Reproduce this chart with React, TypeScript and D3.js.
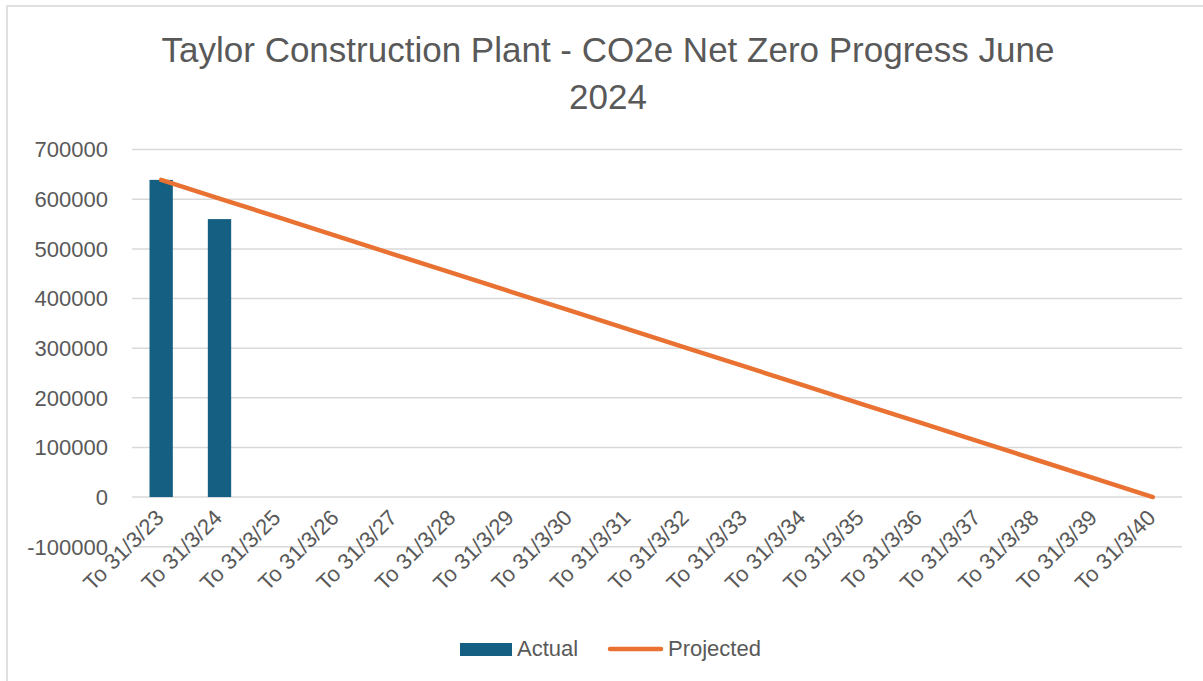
import React from "react";
import * as d3 from "d3";

const categories = [
  "To 31/3/23", "To 31/3/24", "To 31/3/25", "To 31/3/26", "To 31/3/27", "To 31/3/28",
  "To 31/3/29", "To 31/3/30", "To 31/3/31", "To 31/3/32", "To 31/3/33", "To 31/3/34",
  "To 31/3/35", "To 31/3/36", "To 31/3/37", "To 31/3/38", "To 31/3/39", "To 31/3/40",
];
const actual: (number | null)[] = [639000, 560000, null, null, null, null, null, null, null, null, null, null, null, null, null, null, null, null];
const projected = [
  639000, 601400, 563800, 526200, 488600, 451100, 413500, 375900, 338300,
  300700, 263100, 225500, 187900, 150400, 112800, 75200, 37600, 0,
];
const yTicks = [-100000, 0, 100000, 200000, 300000, 400000, 500000, 600000, 700000];
const titleLines = ["Taylor Construction Plant - CO2e Net Zero Progress June", "2024"];

const W = 1203;
const H = 681;
const BAR = "#156082";
const LINE = "#E97132";
const TXT = "#595959";
const GRID = "#D9D9D9";
const FONT = "'Liberation Sans', Arial, sans-serif";

export default function App() {
  const x = d3.scaleBand<string>().domain(categories).range([132, 1182]).paddingInner(0).paddingOuter(0);
  const y = d3.scaleLinear().domain([-100000, 700000]).range([546.7, 149.6]);
  const bw = x.bandwidth();
  const barW = bw * 0.4;
  const cx = (c: string) => (x(c) as number) + bw / 2;
  const line = d3
    .line<number>()
    .x((_, i) => cx(categories[i]))
    .y((d) => y(d));

  return (
    <svg
      width={W}
      height={H}
      style={{ position: "absolute", left: 0, top: 0, background: "#fff" }}
    >
      <rect x={0} y={0} width={W} height={H} fill="#fff" />
      <rect x={7} y={6} width={W + 20} height={H + 20} fill="none" stroke={GRID} strokeWidth={1.6} />
      {titleLines.map((t, i) => (
        <text
          key={i}
          x={608}
          y={61.5 + i * 47}
          textAnchor="middle"
          fontFamily={FONT}
          fontSize={35}
          fill={TXT}
        >
          {t}
        </text>
      ))}
      {yTicks.map((t) => (
        <g key={t}>
          <line x1={132} x2={1182} y1={y(t)} y2={y(t)} stroke={GRID} strokeWidth={1.5} />
          <text x={108} y={y(t) + 7.8} textAnchor="end" fontFamily={FONT} fontSize={22} fill={TXT}>
            {t}
          </text>
        </g>
      ))}
      {categories.map((c, i) =>
        actual[i] == null ? null : (
          <rect
            key={c}
            x={cx(c) - barW / 2}
            y={y(actual[i] as number)}
            width={barW}
            height={y(0) - y(actual[i] as number)}
            fill={BAR}
          />
        )
      )}
      <path
        d={line(projected) || ""}
        fill="none"
        stroke={LINE}
        strokeWidth={4.5}
        strokeLinecap="round"
        strokeLinejoin="round"
      />
      {categories.map((c) => (
        <text
          key={c}
          transform={`translate(${cx(c) + 4},${519}) rotate(-45)`}
          textAnchor="end"
          fontFamily={FONT}
          fontSize={22}
          fill={TXT}
        >
          {c}
        </text>
      ))}
      <rect x={460} y={643} width={52} height={13} fill={BAR} />
      <text x={517} y={656} fontFamily={FONT} fontSize={22} fill={TXT}>
        Actual
      </text>
      <line x1={610} x2={661} y1={649} y2={649} stroke={LINE} strokeWidth={4.5} strokeLinecap="round" />
      <text x={668} y={656} fontFamily={FONT} fontSize={22} fill={TXT}>
        Projected
      </text>
    </svg>
  );
}
